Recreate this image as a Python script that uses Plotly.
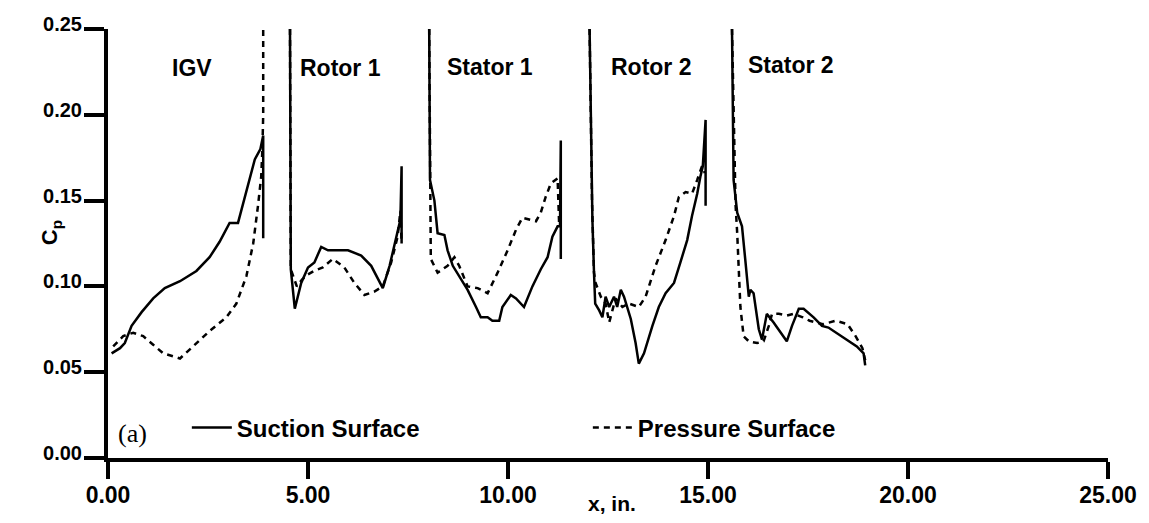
import plotly.graph_objects as go

# ---- data ----
# Suction surface, per blade row
igv_s_x = [0.09, 0.30, 0.42, 0.59, 0.84, 1.13, 1.42, 1.80, 2.21, 2.54, 2.79, 3.04, 3.25, 3.46, 3.67, 3.81, 3.88, 3.88]
igv_s_y = [0.061, 0.064, 0.067, 0.077, 0.085, 0.093, 0.099, 0.103, 0.109, 0.117, 0.126, 0.137, 0.137, 0.156, 0.174, 0.180, 0.188, 0.128]
r1_s_x = [4.55, 4.57, 4.67, 4.83, 5.00, 5.16, 5.33, 5.50, 6.00, 6.33, 6.58, 6.74, 6.87, 7.04, 7.20, 7.31, 7.34, 7.34]
r1_s_y = [0.250, 0.110, 0.087, 0.102, 0.111, 0.114, 0.123, 0.121, 0.121, 0.118, 0.112, 0.105, 0.099, 0.112, 0.129, 0.139, 0.170, 0.125]
s1_s_x = [8.03, 8.05, 8.16, 8.24, 8.41, 8.49, 8.62, 8.78, 8.99, 9.20, 9.32, 9.49, 9.61, 9.78, 9.86, 10.07, 10.20, 10.40, 10.61, 10.82, 10.99, 11.11, 11.24, 11.30, 11.32, 11.32]
s1_s_y = [0.250, 0.162, 0.150, 0.131, 0.130, 0.121, 0.112, 0.106, 0.098, 0.088, 0.082, 0.082, 0.080, 0.080, 0.088, 0.095, 0.093, 0.088, 0.100, 0.110, 0.117, 0.129, 0.135, 0.135, 0.185, 0.116]
r2_s_x = [12.04, 12.07, 12.11, 12.15, 12.18, 12.28, 12.36, 12.44, 12.53, 12.65, 12.73, 12.82, 12.90, 13.07, 13.19, 13.27, 13.40, 13.61, 13.77, 13.94, 14.15, 14.31, 14.48, 14.60, 14.73, 14.81, 14.87, 14.94, 14.94]
r2_s_y = [0.250, 0.186, 0.139, 0.108, 0.090, 0.086, 0.082, 0.094, 0.088, 0.094, 0.088, 0.098, 0.094, 0.081, 0.067, 0.055, 0.061, 0.077, 0.088, 0.096, 0.102, 0.114, 0.127, 0.141, 0.154, 0.164, 0.170, 0.197, 0.147]
s2_s_x = [15.60, 15.64, 15.73, 15.85, 15.93, 16.02, 16.06, 16.14, 16.27, 16.35, 16.47, 16.64, 16.97, 17.10, 17.27, 17.39, 17.64, 17.85, 18.01, 18.26, 18.51, 18.72, 18.89, 18.93]
s2_s_y = [0.250, 0.162, 0.143, 0.135, 0.116, 0.094, 0.098, 0.096, 0.075, 0.069, 0.084, 0.079, 0.068, 0.077, 0.087, 0.087, 0.082, 0.077, 0.076, 0.072, 0.068, 0.065, 0.061, 0.054]

# Pressure surface, per blade row
igv_p_x = [0.13, 0.38, 0.63, 0.88, 1.13, 1.38, 1.80, 2.13, 2.54, 2.96, 3.21, 3.46, 3.63, 3.75, 3.83, 3.86, 3.88, 3.88]
igv_p_y = [0.065, 0.071, 0.073, 0.071, 0.066, 0.061, 0.058, 0.065, 0.074, 0.082, 0.090, 0.106, 0.125, 0.147, 0.164, 0.180, 0.200, 0.250]
r1_p_x = [4.55, 4.57, 4.60, 4.72, 4.85, 5.00, 5.15, 5.37, 5.62, 5.91, 6.16, 6.41, 6.66, 6.87, 7.08, 7.24, 7.31, 7.34]
r1_p_y = [0.250, 0.110, 0.108, 0.100, 0.104, 0.107, 0.109, 0.111, 0.116, 0.111, 0.102, 0.095, 0.097, 0.100, 0.114, 0.129, 0.144, 0.125]
s1_p_x = [8.03, 8.05, 8.07, 8.07, 8.24, 8.49, 8.66, 8.78, 8.99, 9.24, 9.49, 9.74, 9.99, 10.20, 10.36, 10.53, 10.70, 10.82, 10.94, 11.07, 11.24, 11.28]
s1_p_y = [0.250, 0.160, 0.139, 0.116, 0.108, 0.112, 0.117, 0.112, 0.100, 0.099, 0.096, 0.108, 0.121, 0.133, 0.140, 0.139, 0.138, 0.143, 0.152, 0.160, 0.163, 0.135]
r2_p_x = [12.04, 12.10, 12.15, 12.19, 12.32, 12.44, 12.53, 12.69, 12.86, 13.02, 13.27, 13.44, 13.69, 13.94, 14.15, 14.27, 14.44, 14.60, 14.73, 14.85, 14.92]
r2_p_y = [0.250, 0.150, 0.108, 0.102, 0.094, 0.090, 0.079, 0.093, 0.088, 0.090, 0.088, 0.094, 0.112, 0.127, 0.141, 0.152, 0.155, 0.154, 0.162, 0.170, 0.166]
s2_p_x = [15.60, 15.66, 15.69, 15.73, 15.77, 15.81, 15.89, 16.02, 16.23, 16.39, 16.52, 16.60, 16.77, 16.97, 17.14, 17.37, 17.54, 17.87, 18.20, 18.49, 18.69, 18.86, 18.93]
s2_p_y = [0.250, 0.165, 0.147, 0.131, 0.110, 0.088, 0.071, 0.068, 0.067, 0.068, 0.077, 0.084, 0.084, 0.083, 0.084, 0.082, 0.080, 0.078, 0.080, 0.078, 0.071, 0.064, 0.057]

row_labels = ["IGV", "Rotor 1", "Stator 1", "Rotor 2", "Stator 2"]
row_label_x = [2.1, 5.81, 9.55, 13.58, 17.07]
row_label_y = [0.227, 0.227, 0.228, 0.228, 0.229]

x_ticks = [0, 5, 10, 15, 20, 25]
y_ticks = [0.0, 0.05, 0.10, 0.15, 0.20, 0.25]


def join(xs_list, ys_list):
    X, Y = [], []
    for xs, ys in zip(xs_list, ys_list):
        if X:
            X.append(None)
            Y.append(None)
        X.extend(xs)
        Y.extend(ys)
    return X, Y


sx, sy = join([igv_s_x, r1_s_x, s1_s_x, r2_s_x, s2_s_x], [igv_s_y, r1_s_y, s1_s_y, r2_s_y, s2_s_y])
px_, py_ = join([igv_p_x, r1_p_x, s1_p_x, r2_p_x, s2_p_x], [igv_p_y, r1_p_y, s1_p_y, r2_p_y, s2_p_y])

SANS = "Liberation Sans"

fig = go.Figure()
fig.add_trace(go.Scatter(x=sx, y=sy, mode="lines", name="Suction Surface",
                         line=dict(color="black", width=2.5), connectgaps=False))
fig.add_trace(go.Scatter(x=px_, y=py_, mode="lines", name="Pressure Surface",
                         line=dict(color="black", width=2.5, dash="6px,5px"), connectgaps=False))

for t, xx, yy in zip(row_labels, row_label_x, row_label_y):
    fig.add_annotation(x=xx, y=yy, text=t, showarrow=False,
                       font=dict(family=SANS, size=23, color="black", weight="bold"))

fig.add_annotation(x=0.6, y=0.014, text="(a)", showarrow=False,
                   font=dict(family="Liberation Serif", size=26, color="black"))

# axis titles
fig.add_annotation(xref="paper", yref="paper", x=(35 - 108) / 1002, y=(458 - 233) / 429,
                   text="C<sub>p</sub>", textangle=-90, showarrow=False,
                   font=dict(family=SANS, size=22, color="black", weight="bold"))
fig.add_annotation(xref="paper", yref="paper", x=(613 - 108) / 1002, y=(458 - 503) / 429,
                   text="x, in.", showarrow=False, yanchor="middle",
                   font=dict(family=SANS, size=21, color="black", weight="bold"))

fig.update_layout(
    width=1149, height=523,
    margin=dict(l=108, r=39, t=29, b=65),
    paper_bgcolor="white", plot_bgcolor="white",
    showlegend=True,
    legend=dict(orientation="h", x=(187 - 108) / 1002, y=(458 - 428) / 429,
                xanchor="left", yanchor="middle", bgcolor="rgba(0,0,0,0)",
                entrywidth=346, entrywidthmode="pixels", itemwidth=40,
                font=dict(family=SANS, size=24, color="black", weight="bold")),
    xaxis=dict(range=[0, 25], tickvals=x_ticks, ticktext=[f"{v:.2f}" for v in x_ticks],
               showgrid=False, zeroline=False, showline=True, linecolor="black", linewidth=4,
               ticks="outside", ticklen=17, tickwidth=4, tickcolor="black",
               ticklabelstandoff=-4,
               tickfont=dict(family=SANS, size=23, color="black", weight="bold")),
    yaxis=dict(range=[0, 0.25], tickvals=y_ticks, ticktext=[f"{v:.2f}" for v in y_ticks],
               showgrid=False, zeroline=False, showline=True, linecolor="black", linewidth=4,
               ticks="outside", ticklen=20, tickwidth=4, tickcolor="black", ticklabelshift=-5,
               ticklabelstandoff=-2,
               tickfont=dict(family=SANS, size=20, color="black", weight="bold")),
)

fig.write_html("out.html")
